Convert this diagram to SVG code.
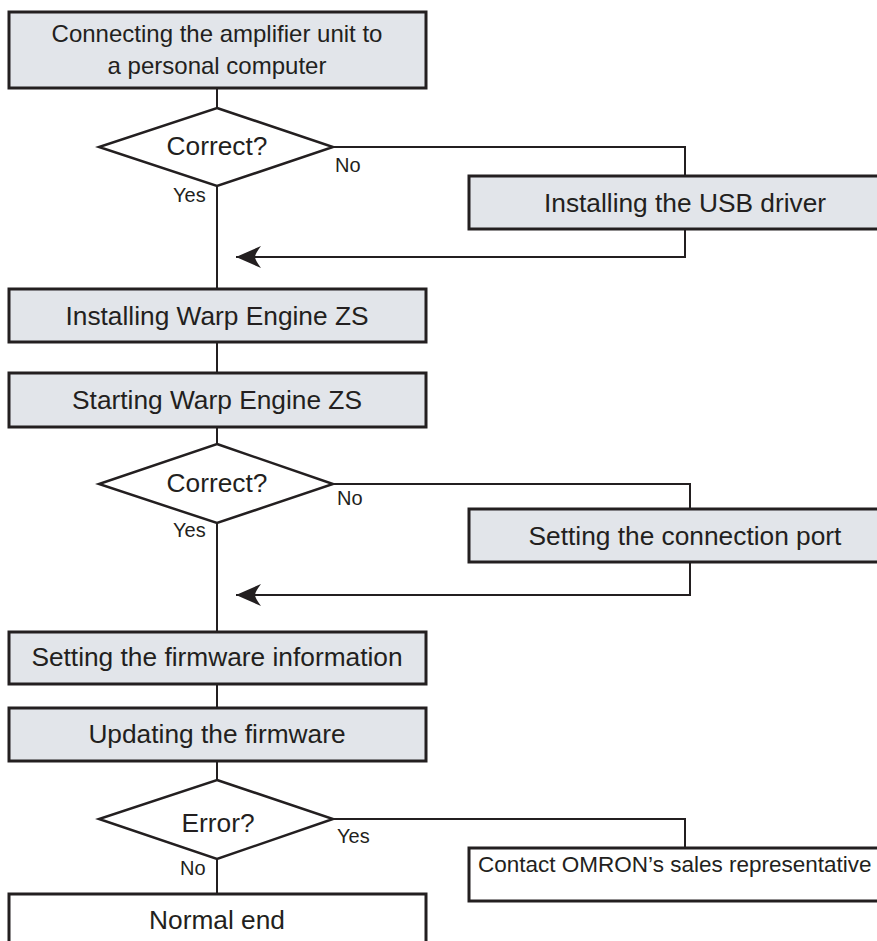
<svg xmlns="http://www.w3.org/2000/svg" width="877" height="941" viewBox="0 0 877 941">
<style>
.box{fill:#e2e5ea;stroke:#231f20;stroke-width:3}
.wbox{fill:#ffffff;stroke:#231f20;stroke-width:3}
.dia{fill:#ffffff;stroke:#231f20;stroke-width:2.5;stroke-linejoin:miter}
.ln{fill:none;stroke:#231f20;stroke-width:2}
text{font-family:"Liberation Sans",Arial,sans-serif;fill:#231f20}
.t24{font-size:24px;text-anchor:middle}
.t26{font-size:26.3px;text-anchor:middle}
.lab{font-size:20px}
</style>
<defs>
<marker id="arr" markerUnits="userSpaceOnUse" viewBox="0 -12 25 24" markerWidth="25" markerHeight="24" refX="25" refY="0" orient="auto">
<path d="M25,0 L0,-11 Q6,-3 6,0 Q6,3 0,11 Z" fill="#231f20"/>
</marker>
</defs>
<rect width="877" height="941" fill="#ffffff"/>
<g id="connectors">
<line class="ln" x1="217" y1="88" x2="217" y2="108"/>
<line class="ln" x1="217" y1="186" x2="217" y2="289"/>
<polyline class="ln" points="333,147 685,147 685,176"/>
<polyline class="ln" points="685,229 685,257 236,257" marker-end="url(#arr)"/>
<line class="ln" x1="217" y1="342" x2="217" y2="373"/>
<line class="ln" x1="217" y1="427" x2="217" y2="444"/>
<line class="ln" x1="217" y1="523" x2="217" y2="632"/>
<polyline class="ln" points="333,484 690,484 690,509"/>
<polyline class="ln" points="690,562 690,595 236,595" marker-end="url(#arr)"/>
<line class="ln" x1="217" y1="684" x2="217" y2="708"/>
<line class="ln" x1="217" y1="761" x2="217" y2="780"/>
<line class="ln" x1="217" y1="859" x2="217" y2="894"/>
<polyline class="ln" points="333,819 685,819 685,848"/>
</g>
<g id="n1">
<rect class="box" x="9" y="12" width="417" height="76"/>
<text class="t24" x="217" y="42">Connecting the amplifier unit to</text>
<text class="t24" x="217" y="74">a personal computer</text>
</g>
<g id="d1">
<polygon class="dia" points="217,108 333,147 217,186 99,147"/>
<text class="t26" x="217" y="155">Correct?</text>
<text class="lab" x="335" y="172">No</text>
<text class="lab" x="173" y="202">Yes</text>
</g>
<g id="n2">
<rect class="box" x="469" y="176" width="432" height="53"/>
<text class="t26" x="685" y="212">Installing the USB driver</text>
</g>
<g id="n3">
<rect class="box" x="9" y="289" width="417" height="53"/>
<text class="t26" x="217" y="325">Installing Warp Engine ZS</text>
</g>
<g id="n4">
<rect class="box" x="9" y="373" width="417" height="54"/>
<text class="t26" x="217" y="409">Starting Warp Engine ZS</text>
</g>
<g id="d2">
<polygon class="dia" points="217,444 333,484 217,523 99,484"/>
<text class="t26" x="217" y="492">Correct?</text>
<text class="lab" x="337" y="505">No</text>
<text class="lab" x="173" y="537">Yes</text>
</g>
<g id="n5">
<rect class="box" x="469" y="509" width="432" height="53"/>
<text class="t26" x="685" y="545">Setting the connection port</text>
</g>
<g id="n6">
<rect class="box" x="9" y="632" width="417" height="52"/>
<text class="t26" x="217" y="666">Setting the firmware information</text>
</g>
<g id="n7">
<rect class="box" x="9" y="708" width="417" height="53"/>
<text class="t26" x="217" y="743">Updating the firmware</text>
</g>
<g id="d3">
<polygon class="dia" points="217,780 333,819 217,859 99,819"/>
<text class="t26" x="218" y="832">Error?</text>
<text class="lab" x="337" y="843">Yes</text>
<text class="lab" x="180" y="875">No</text>
</g>
<g id="n8">
<rect class="wbox" x="469" y="848" width="432" height="53"/>
<text x="478" y="872" style="font-size:22.5px">Contact OMRON’s sales representative</text>
</g>
<g id="n9">
<rect class="wbox" x="9" y="894" width="417" height="70"/>
<text class="t26" x="217" y="929">Normal end</text>
</g>
</svg>
